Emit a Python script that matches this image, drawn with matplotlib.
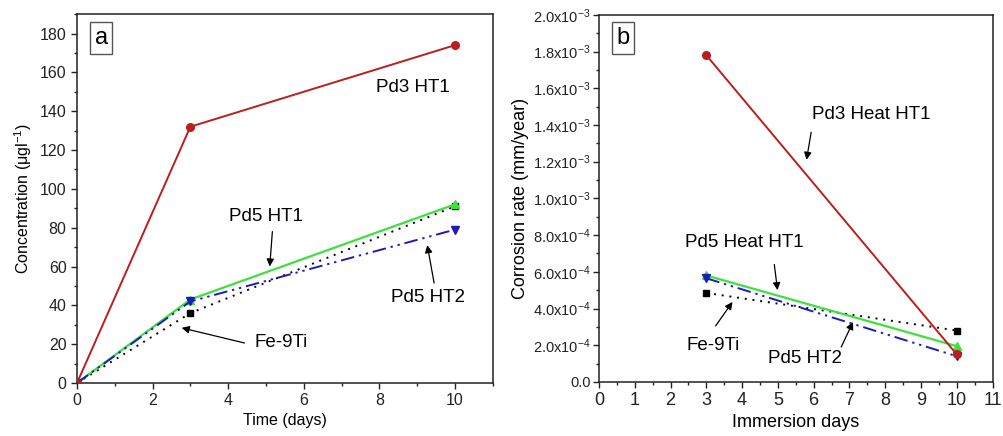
import matplotlib
matplotlib.use("Agg")
import matplotlib.pyplot as plt
from matplotlib.ticker import MultipleLocator, FixedLocator, FixedFormatter

plt.rcParams['font.family'] = ['Liberation Sans', 'DejaVu Sans']
plt.rcParams['mathtext.fontset'] = 'custom'
plt.rcParams['mathtext.rm'] = 'Liberation Sans'
plt.rcParams['mathtext.it'] = 'Liberation Sans:italic'
plt.rcParams['mathtext.bf'] = 'Liberation Sans:bold'

# ---- data panel a ----
days_a = [0, 3, 10]
pd3_ht1_a = [0, 132, 174]
pd5_ht1_a = [0, 43, 92]
pd5_ht2_a = [0, 42, 79]
fe9ti_a = [0, 36, 91]

# ---- data panel b ----
days_b = [3, 10]
pd3_ht1_b = [1.78e-3, 1.5e-4]
pd5_ht1_b = [5.8e-4, 1.95e-4]
pd5_ht2_b = [5.65e-4, 1.4e-4]
fe9ti_b = [4.85e-4, 2.8e-4]

ytick_vals_b = [0, 2e-4, 4e-4, 6e-4, 8e-4, 1e-3, 1.2e-3, 1.4e-3, 1.6e-3, 1.8e-3, 2e-3]
ytick_labels_b = ["0.0",
                  r"$2.0\mathrm{x}10^{-4}$", r"$4.0\mathrm{x}10^{-4}$", r"$6.0\mathrm{x}10^{-4}$",
                  r"$8.0\mathrm{x}10^{-4}$", r"$1.0\mathrm{x}10^{-3}$", r"$1.2\mathrm{x}10^{-3}$",
                  r"$1.4\mathrm{x}10^{-3}$", r"$1.6\mathrm{x}10^{-3}$", r"$1.8\mathrm{x}10^{-3}$",
                  r"$2.0\mathrm{x}10^{-3}$"]

RED = '#bb1e1e'
GREEN = '#3ee03e'
BLUE = '#1c1cb8'
BLACK = '#000000'
DASHDOTDOT = (0, (7, 2.5, 1.2, 2.5, 1.2, 2.5))

fig = plt.figure(figsize=(10.04, 4.36), dpi=100)
axa = fig.add_axes([0.0767, 0.1216, 0.414, 0.846])
axb = fig.add_axes([0.5966, 0.124, 0.392, 0.842])

def style(ax):
    for s in ax.spines.values():
        s.set_linewidth(1.1)
        s.set_color('#222222')
    ax.tick_params(which='both', direction='out', top=False, right=False, colors='#222222')
    ax.tick_params(which='major', length=4, width=1.0)
    ax.tick_params(which='minor', length=2.5, width=1.0)

# ---------- panel a ----------
axa.plot(days_a, pd3_ht1_a, color=RED, lw=1.4, marker='o', ms=5.5, zorder=5)
axa.plot(days_a, fe9ti_a, color=BLACK, lw=1.4, ls=(0, (1, 3)), marker='s', ms=5, zorder=3)
axa.plot(days_a, pd5_ht1_a, color=GREEN, lw=1.6, marker='^', ms=6, zorder=4)
axa.plot(days_a, pd5_ht2_a, color=BLUE, lw=1.4, ls=DASHDOTDOT, marker='v', ms=6, zorder=4)

axa.set_xlim(0, 11)
axa.set_ylim(0, 190)
axa.xaxis.set_major_locator(FixedLocator([0, 2, 4, 6, 8, 10]))
axa.xaxis.set_minor_locator(MultipleLocator(1))
axa.yaxis.set_major_locator(MultipleLocator(20))
axa.yaxis.set_minor_locator(MultipleLocator(10))
style(axa)
axa.tick_params(labelsize=11.5)
axa.set_xlabel("Time (days)", fontsize=11.5, labelpad=3)
axa.set_ylabel("Concentration (\u03bcgl$^{-1}$)", fontsize=11.5, labelpad=4)

axa.text(0.058, 0.935, "a", transform=axa.transAxes, fontsize=17, ha='center', va='center',
         bbox=dict(boxstyle='square,pad=0.2', fc='white', ec='#555555', lw=1))

ann_kw = dict(arrowstyle='-|>', color='black', lw=0.9, mutation_scale=11, shrinkA=0, shrinkB=0)
axa.text(8.9, 152, "Pd3 HT1", fontsize=13.5, ha='center', va='center')
axa.text(5.0, 86, "Pd5 HT1", fontsize=13.5, ha='center', va='center')
axa.annotate('', xy=(5.1, 60), xytext=(5.17, 78), arrowprops=ann_kw)
axa.text(9.3, 44, "Pd5 HT2", fontsize=13.5, ha='center', va='center')
axa.annotate('', xy=(9.27, 71), xytext=(9.45, 51.5), arrowprops=ann_kw)
axa.text(5.4, 20.6, "Fe-9Ti", fontsize=13.5, ha='center', va='center')
axa.annotate('', xy=(2.77, 28.4), xytext=(4.43, 20.6), arrowprops=ann_kw)

# ---------- panel b ----------
axb.plot(days_b, pd3_ht1_b, color=RED, lw=1.4, marker='o', ms=5.5, zorder=5)
axb.plot(days_b, fe9ti_b, color=BLACK, lw=1.4, ls=(0, (1, 3)), marker='s', ms=5, zorder=3)
axb.plot(days_b, pd5_ht1_b, color=GREEN, lw=1.6, marker='^', ms=6, zorder=4)
axb.plot(days_b, pd5_ht2_b, color=BLUE, lw=1.4, ls=DASHDOTDOT, marker='v', ms=6, zorder=4)

axb.set_xlim(0, 11)
axb.set_ylim(0, 2e-3)
axb.xaxis.set_major_locator(MultipleLocator(1))
axb.xaxis.set_minor_locator(MultipleLocator(0.5))
axb.yaxis.set_major_locator(FixedLocator(ytick_vals_b))
axb.yaxis.set_major_formatter(FixedFormatter(ytick_labels_b))
axb.yaxis.set_minor_locator(MultipleLocator(1e-4))
style(axb)
axb.tick_params(axis='x', labelsize=13)
axb.tick_params(axis='y', labelsize=10.5, pad=2)
axb.set_xlabel("Immersion days", fontsize=13, labelpad=3)
axb.set_ylabel("Corrosion rate (mm/year)", fontsize=13, labelpad=3)

axb.text(0.061, 0.937, "b", transform=axb.transAxes, fontsize=17, ha='center', va='center',
         bbox=dict(boxstyle='square,pad=0.2', fc='white', ec='#555555', lw=1))

axb.text(7.6, 1.455e-3, "Pd3 Heat HT1", fontsize=13.5, ha='center', va='center')
axb.annotate('', xy=(5.8, 1.21e-3), xytext=(5.93, 1.36e-3), arrowprops=ann_kw)
axb.text(4.07, 0.757e-3, "Pd5 Heat HT1", fontsize=13.5, ha='center', va='center')
axb.annotate('', xy=(4.99, 0.50e-3), xytext=(4.9, 0.64e-3), arrowprops=ann_kw)
axb.text(3.2, 0.196e-3, "Fe-9Ti", fontsize=13.5, ha='center', va='center')
axb.annotate('', xy=(3.73, 0.436e-3), xytext=(3.26, 0.305e-3), arrowprops=ann_kw)
axb.text(5.77, 0.125e-3, "Pd5 HT2", fontsize=13.5, ha='center', va='center')
axb.annotate('', xy=(7.1, 0.327e-3), xytext=(6.77, 0.19e-3), arrowprops=ann_kw)

fig.savefig("out.png", dpi=100)
